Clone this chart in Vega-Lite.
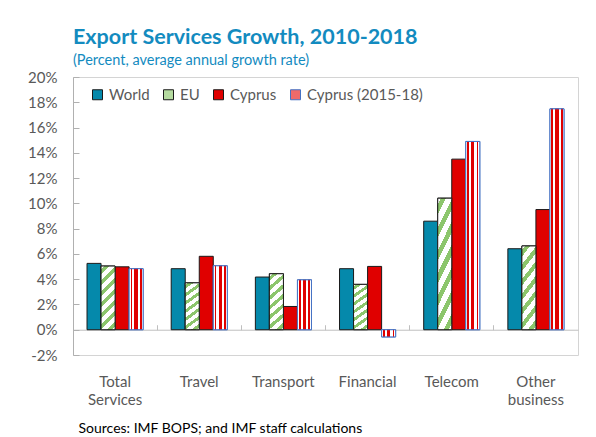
{
  "$schema": "https://vega.github.io/schema/vega-lite/v6.json",
  "width": 505,
  "height": 278,
  "autosize": {"type": "none"},
  "padding": {"left": 73, "top": 77, "right": 18, "bottom": 82},
  "background": "white",
  "title": {
    "text": "Export Services Growth, 2010-2018",
    "subtitle": "(Percent, average annual growth rate)",
    "anchor": "start",
    "frame": "group",
    "font": "Lato",
    "fontSize": 21.5,
    "fontWeight": "bold",
    "color": "#138bbf",
    "subtitleFont": "Lato",
    "subtitleFontSize": 14.5,
    "subtitleColor": "#138bbf",
    "subtitlePadding": 5,
    "offset": 3
  },
  "data": {
    "values": [
      {"category": "Total Services", "series": "World", "value": 5.25},
      {"category": "Total Services", "series": "EU", "value": 5.04},
      {"category": "Total Services", "series": "Cyprus", "value": 4.98},
      {"category": "Total Services", "series": "Cyprus (2015-18)", "value": 4.83},
      {"category": "Travel", "series": "World", "value": 4.83},
      {"category": "Travel", "series": "EU", "value": 3.71},
      {"category": "Travel", "series": "Cyprus", "value": 5.81},
      {"category": "Travel", "series": "Cyprus (2015-18)", "value": 5.06},
      {"category": "Transport", "series": "World", "value": 4.17},
      {"category": "Transport", "series": "EU", "value": 4.43},
      {"category": "Transport", "series": "Cyprus", "value": 1.84},
      {"category": "Transport", "series": "Cyprus (2015-18)", "value": 3.95},
      {"category": "Financial", "series": "World", "value": 4.83},
      {"category": "Financial", "series": "EU", "value": 3.59},
      {"category": "Financial", "series": "Cyprus", "value": 5.01},
      {"category": "Financial", "series": "Cyprus (2015-18)", "value": -0.57},
      {"category": "Telecom", "series": "World", "value": 8.59},
      {"category": "Telecom", "series": "EU", "value": 10.41},
      {"category": "Telecom", "series": "Cyprus", "value": 13.5},
      {"category": "Telecom", "series": "Cyprus (2015-18)", "value": 14.9},
      {"category": "Other business", "series": "World", "value": 6.41},
      {"category": "Other business", "series": "EU", "value": 6.63},
      {"category": "Other business", "series": "Cyprus", "value": 9.51},
      {"category": "Other business", "series": "Cyprus (2015-18)", "value": 17.48}
    ]
  },
  "layer": [
    {
      "mark": {"type": "bar", "strokeWidth": 1},
      "encoding": {
        "x": {
          "field": "category",
          "type": "nominal",
          "sort": ["Total Services", "Travel", "Transport", "Financial", "Telecom", "Other business"],
          "scale": {"paddingInner": 0, "paddingOuter": 0},
          "axis": {
            "orient": "bottom",
            "domain": false,
            "ticks": false,
            "labelAngle": 0,
            "labelExpr": "split(datum.label, ' ')",
            "labelFontSize": 15,
            "labelColor": "#595959",
            "labelLineHeight": 18,
            "labelPadding": 19,
            "title": "Sources: IMF BOPS; and IMF staff calculations",
            "titleAnchor": "start",
            "titleAlign": "left",
            "titleX": 5,
            "titleFontSize": 14,
            "titleFontWeight": "normal",
            "titleColor": "#000000",
            "titlePadding": 14
          }
        },
        "xOffset": {
          "field": "series",
          "type": "nominal",
          "sort": ["World", "EU", "Cyprus", "Cyprus (2015-18)"],
          "scale": {"domain": ["World", "EU", "Cyprus", "Cyprus (2015-18)"], "paddingInner": 0, "paddingOuter": 1.09}
        },
        "y": {
          "field": "value",
          "type": "quantitative",
          "scale": {"domain": [-2, 20], "nice": false, "zero": false},
          "axis": {
            "title": null,
            "orient": "left",
            "values": [-2, 0, 2, 4, 6, 8, 10, 12, 14, 16, 18, 20],
            "labelExpr": "datum.value + '%'",
            "grid": false,
            "domain": true,
            "domainColor": "#b0b0b0",
            "ticks": true,
            "tickSize": -6,
            "tickColor": "#b0b0b0",
            "labelFontSize": 15,
            "labelColor": "#595959",
            "labelPadding": 22
          }
        },
        "color": {
          "field": "series",
          "type": "nominal",
          "scale": {
            "domain": ["World", "EU", "Cyprus", "Cyprus (2015-18)"],
            "range": ["#0589ab", "#b5dba0", "#e00000", "#ee6a6a"]
          },
          "legend": {
            "title": null,
            "orient": "none",
            "legendX": 17,
            "legendY": 10,
            "direction": "horizontal",
            "symbolType": "square",
            "symbolSize": 100,
            "symbolStrokeWidth": 1,
            "labelFontSize": 15,
            "labelColor": "#595959",
            "labelOffset": 4,
            "columnPadding": 11
          }
        },
        "stroke": {
          "field": "series",
          "type": "nominal",
          "scale": {
            "domain": ["World", "EU", "Cyprus", "Cyprus (2015-18)"],
            "range": ["#1a1a1a", "#1a1a1a", "#1a1a1a", "#4472c4"]
          },
          "legend": {
            "title": null,
            "orient": "none",
            "legendX": 17,
            "legendY": 10,
            "direction": "horizontal",
            "symbolType": "square",
            "symbolSize": 100,
            "symbolStrokeWidth": 1,
            "labelFontSize": 15,
            "labelColor": "#595959",
            "labelOffset": 4,
            "columnPadding": 11
          }
        }
      }
    },
    {
      "transform": [{"filter": "datum.series === 'EU'"}],
      "mark": {
        "type": "bar",
        "stroke": "#1a1a1a",
        "strokeWidth": 1,
        "fill": {
          "gradient": "linear",
          "x1": 0, "y1": 0, "x2": 0.25, "y2": 1.16,
          "stops": [
            {"offset": 0, "color": "#ffffff"},
            {"offset": 0.04, "color": "#ffffff"},
            {"offset": 0.04, "color": "#8cc66c"},
            {"offset": 0.105, "color": "#8cc66c"},
            {"offset": 0.105, "color": "#ffffff"},
            {"offset": 0.183, "color": "#ffffff"},
            {"offset": 0.183, "color": "#8cc66c"},
            {"offset": 0.248, "color": "#8cc66c"},
            {"offset": 0.248, "color": "#ffffff"},
            {"offset": 0.326, "color": "#ffffff"},
            {"offset": 0.326, "color": "#8cc66c"},
            {"offset": 0.391, "color": "#8cc66c"},
            {"offset": 0.391, "color": "#ffffff"},
            {"offset": 0.469, "color": "#ffffff"},
            {"offset": 0.469, "color": "#8cc66c"},
            {"offset": 0.534, "color": "#8cc66c"},
            {"offset": 0.534, "color": "#ffffff"},
            {"offset": 0.611, "color": "#ffffff"},
            {"offset": 0.611, "color": "#8cc66c"},
            {"offset": 0.676, "color": "#8cc66c"},
            {"offset": 0.676, "color": "#ffffff"},
            {"offset": 0.754, "color": "#ffffff"},
            {"offset": 0.754, "color": "#8cc66c"},
            {"offset": 0.819, "color": "#8cc66c"},
            {"offset": 0.819, "color": "#ffffff"},
            {"offset": 0.897, "color": "#ffffff"},
            {"offset": 0.897, "color": "#8cc66c"},
            {"offset": 0.962, "color": "#8cc66c"},
            {"offset": 0.962, "color": "#ffffff"},
            {"offset": 1, "color": "#ffffff"}
          ]
        }
      },
      "encoding": {
        "x": {
          "field": "category",
          "type": "nominal",
          "sort": ["Total Services", "Travel", "Transport", "Financial", "Telecom", "Other business"],
          "scale": {"paddingInner": 0, "paddingOuter": 0},
          "axis": {
            "orient": "bottom",
            "labels": false,
            "ticks": true,
            "bandPosition": 0,
            "tickSize": -5,
            "tickColor": "#bfbfbf",
            "domain": true,
            "domainColor": "#bfbfbf",
            "offset": -25.27,
            "title": null
          }
        },
        "xOffset": {
          "field": "series",
          "type": "nominal",
          "sort": ["World", "EU", "Cyprus", "Cyprus (2015-18)"],
          "scale": {"domain": ["World", "EU", "Cyprus", "Cyprus (2015-18)"], "paddingInner": 0, "paddingOuter": 1.09}
        },
        "y": {
          "field": "value",
          "type": "quantitative",
          "scale": {"domain": [-2, 20], "nice": false, "zero": false},
          "axis": {
            "title": null,
            "orient": "left",
            "values": [-2, 0, 2, 4, 6, 8, 10, 12, 14, 16, 18, 20],
            "labelExpr": "datum.value + '%'",
            "grid": false,
            "domain": true,
            "domainColor": "#b0b0b0",
            "ticks": true,
            "tickSize": -6,
            "tickColor": "#b0b0b0",
            "labelFontSize": 15,
            "labelColor": "#595959",
            "labelPadding": 22
          }
        }
      }
    },
    {
      "transform": [{"filter": "datum.series === 'Cyprus (2015-18)'"}],
      "mark": {
        "type": "bar",
        "stroke": "#4472c4",
        "strokeWidth": 1,
        "fill": {
          "gradient": "linear",
          "x1": 0, "y1": 0, "x2": 1, "y2": 0,
          "stops": [
            {"offset": 0, "color": "#ffffff"},
            {"offset": 0.1, "color": "#ffffff"},
            {"offset": 0.1, "color": "#e00000"},
            {"offset": 0.22, "color": "#e00000"},
            {"offset": 0.22, "color": "#ffffff"},
            {"offset": 0.38, "color": "#ffffff"},
            {"offset": 0.38, "color": "#e00000"},
            {"offset": 0.62, "color": "#e00000"},
            {"offset": 0.62, "color": "#ffffff"},
            {"offset": 0.78, "color": "#ffffff"},
            {"offset": 0.78, "color": "#e00000"},
            {"offset": 0.9, "color": "#e00000"},
            {"offset": 0.9, "color": "#ffffff"},
            {"offset": 1, "color": "#ffffff"}
          ]
        }
      },
      "encoding": {
        "x": {
          "field": "category",
          "type": "nominal",
          "sort": ["Total Services", "Travel", "Transport", "Financial", "Telecom", "Other business"],
          "scale": {"paddingInner": 0, "paddingOuter": 0},
          "axis": null
        },
        "xOffset": {
          "field": "series",
          "type": "nominal",
          "sort": ["World", "EU", "Cyprus", "Cyprus (2015-18)"],
          "scale": {"domain": ["World", "EU", "Cyprus", "Cyprus (2015-18)"], "paddingInner": 0, "paddingOuter": 1.09}
        },
        "y": {
          "field": "value",
          "type": "quantitative",
          "scale": {"domain": [-2, 20], "nice": false, "zero": false},
          "axis": {
            "title": null,
            "orient": "left",
            "values": [-2, 0, 2, 4, 6, 8, 10, 12, 14, 16, 18, 20],
            "labelExpr": "datum.value + '%'",
            "grid": false,
            "domain": true,
            "domainColor": "#b0b0b0",
            "ticks": true,
            "tickSize": -6,
            "tickColor": "#b0b0b0",
            "labelFontSize": 15,
            "labelColor": "#595959",
            "labelPadding": 22
          }
        }
      }
    }
  ],
  "resolve": {"axis": {"x": "independent"}},
  "config": {
    "font": "Lato",
    "view": {"stroke": "#d4d4d4", "strokeWidth": 1},
    "axis": {"labelFont": "Lato", "titleFont": "Lato"},
    "legend": {"labelFont": "Lato"}
  }
}
